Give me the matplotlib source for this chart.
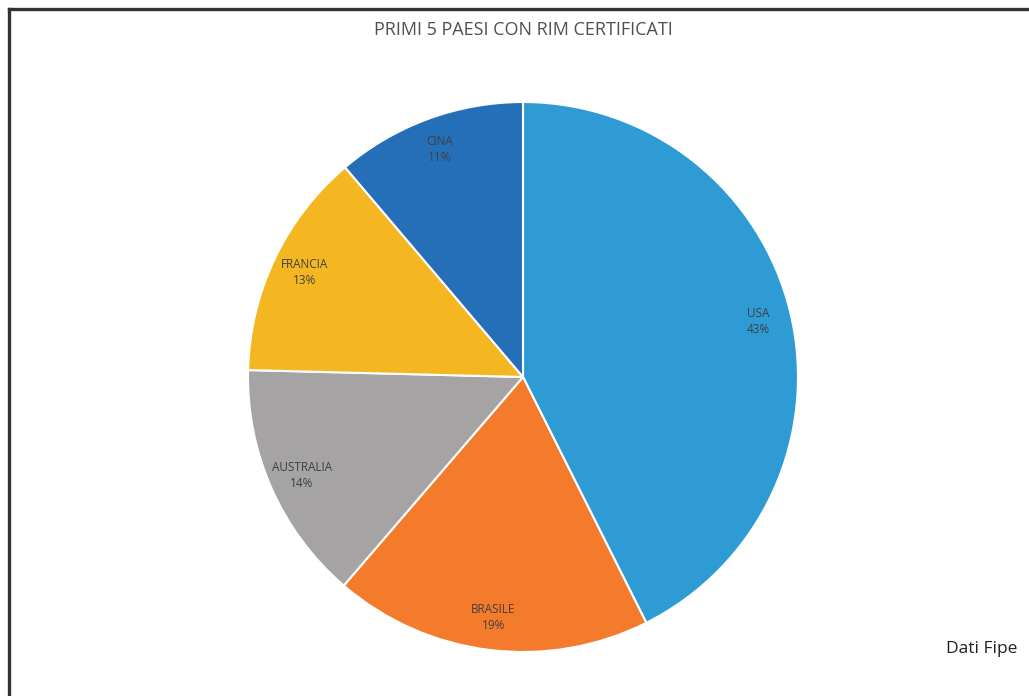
import matplotlib.pyplot as plt
from matplotlib.lines import Line2D

# dati (quote stimate dagli angoli; etichette arrotondate come nell'originale)
paesi = ["USA", "BRASILE", "AUSTRALIA", "FRANCIA", "CINA"]
quote = [42.6, 18.7, 14.1, 13.4, 11.2]
etichette_pct = ["43%", "19%", "14%", "13%", "11%"]
colori = ["#2E9BD4", "#F47B2B", "#A5A3A3", "#F4B722", "#256EB8"]

plt.rcParams['font.family'] = ['Open Sans', 'DejaVu Sans']

fig = plt.figure(figsize=(10.29, 6.96), dpi=100)
W, H = 1029, 696
# pie centre (523, 377), radius 275 px
r = 275
ax = fig.add_axes([(523 - r) / W, 1 - (377 + r) / H, 2 * r / W, 2 * r / H])

etichette = [f"{p}\n{q}" for p, q in zip(paesi, etichette_pct)]
wedges, testi = ax.pie(quote, colors=colori, startangle=90, counterclock=False,
                       labels=etichette, labeldistance=0.88,
                       wedgeprops=dict(edgecolor="white", linewidth=1.5),
                       textprops=dict(fontsize=8.5, color="#404040", ha="center", va="center",
                                      linespacing=1.3))
for t in testi:
    t.set_horizontalalignment("center")
ax.set_aspect("equal")
ax.set_xlim(-1, 1)
ax.set_ylim(-1, 1)

fig.text(523 / W, 1 - 30 / H, "PRIMI 5 PAESI CON RIM CERTIFICATI", ha="center", va="center",
         fontsize=13, color="#505050")
fig.text(982 / W, 1 - 649 / H, "Dati Fipe", ha="center", va="center", fontsize=12.5, color="#202020")

# cornice (solo lati sinistro e superiore visibili)
fig.add_artist(Line2D([9 / W, 9 / W], [0, 1 - 9 / H], color="#333333", linewidth=2.4))
fig.add_artist(Line2D([9 / W, 1], [1 - 9 / H, 1 - 9 / H], color="#333333", linewidth=2.4))

fig.savefig("out.png", dpi=100, facecolor="white")
